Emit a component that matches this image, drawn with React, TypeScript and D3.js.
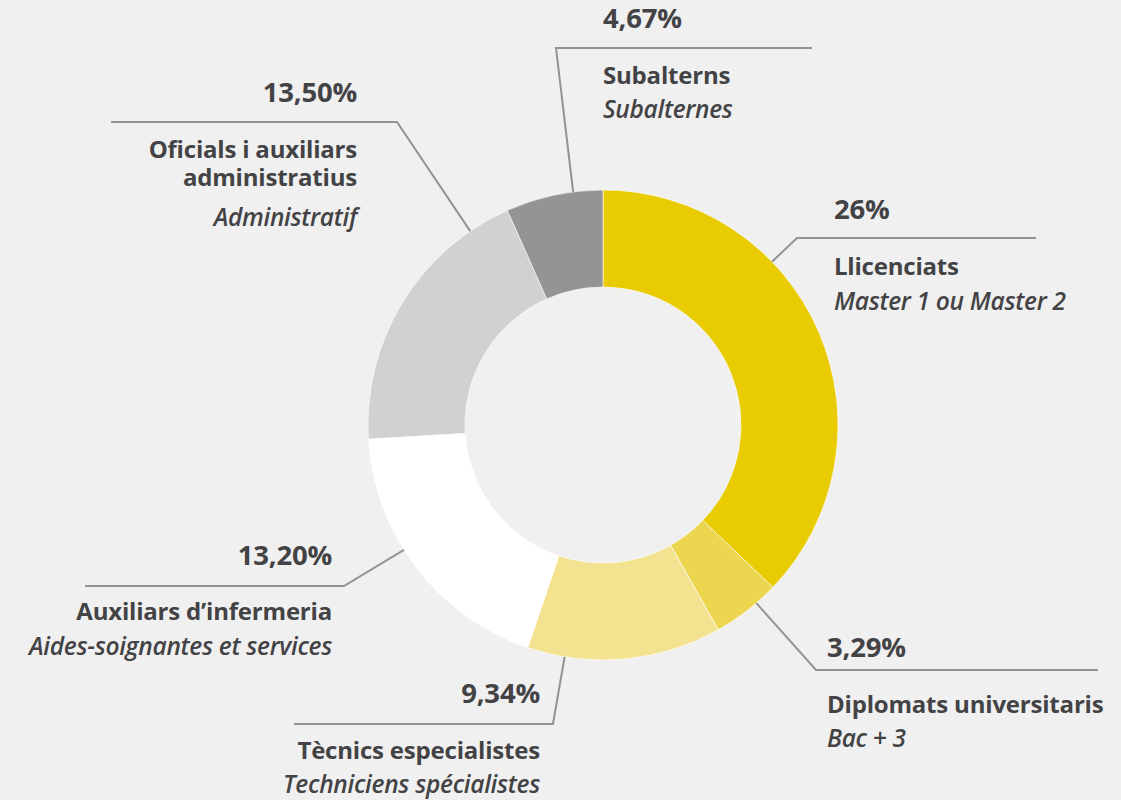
import React from "react";
import * as d3 from "d3";

const categories = [
  "Llicenciats",
  "Diplomats universitaris",
  "Tècnics especialistes",
  "Auxiliars d’infermeria",
  "Oficials i auxiliars administratius",
  "Subalterns",
];
const categoryLines = [
  ["Llicenciats"],
  ["Diplomats universitaris"],
  ["Tècnics especialistes"],
  ["Auxiliars d’infermeria"],
  ["Oficials i auxiliars", "administratius"],
  ["Subalterns"],
];
const subtitles = [
  "Master 1 ou Master 2",
  "Bac + 3",
  "Techniciens spécialistes",
  "Aides-soignantes et services",
  "Administratif",
  "Subalternes",
];
const values = [26, 3.29, 9.34, 13.2, 13.5, 4.67];
const pctLabels = ["26%", "3,29%", "9,34%", "13,20%", "13,50%", "4,67%"];

const colors = ["#e8cb00", "#edd64f", "#f3e391", "#ffffff", "#d0d1d3", "#939496"];

// label layout (positions only)
const layout = [
  { angle: 46, elbowX: 797, lineY: 238, endX: 1036, textX: 834, anchor: "start", pctY: 219, labelY: 275, subY: 310 },
  { angle: 139.3, elbowX: 816, lineY: 670, endX: 1098, textX: 827, anchor: "start", pctY: 657, labelY: 713, subY: 747 },
  { angle: 189.4, elbowX: 553, lineY: 724, endX: 294, textX: 540, anchor: "end", pctY: 703, labelY: 759, subY: 793 },
  { angle: 237.9, elbowX: 344, lineY: 586, endX: 85, textX: 332, anchor: "end", pctY: 565, labelY: 620, subY: 655 },
  { angle: 325.6, elbowX: 397, lineY: 122, endX: 111, textX: 357, anchor: "end", pctY: 102, labelY: 158, subY: 226 },
  { angle: 352.7, elbowX: 556, lineY: 48, endX: 812, textX: 603, anchor: "start", pctY: 28, labelY: 84, subY: 118 },
];

const W = 1121;
const H = 800;
const cx = 603;
const cy = 425;
const outerR = 235;
const innerR = 138;
const FONT = "'Open Sans', 'Noto Sans', sans-serif";
const TEXT = "#434345";

export default function App() {
  const pie = d3.pie<number>().sort(null).value((d) => d);
  const arcs = pie(values);
  const arc = d3.arc<d3.PieArcDatum<number>>().innerRadius(innerR).outerRadius(outerR);
  const lineGen = d3.line();

  return (
    <svg
      width={W}
      height={H}
      style={{ position: "absolute", left: 0, top: 0, display: "block", background: "#f0f0f0" }}
    >
      <rect width={W} height={H} fill="#f0f0f0" />
      <g transform={`translate(${cx},${cy})`}>
        {arcs.map((a, i) => (
          <path key={i} d={arc(a) || ""} fill={colors[i]} stroke="#ffffff" strokeWidth={0.6} />
        ))}
      </g>
      {layout.map((l, i) => {
        const rad = (l.angle * Math.PI) / 180;
        const sx = cx + outerR * Math.sin(rad);
        const sy = cy - outerR * Math.cos(rad);
        const d = lineGen([
          [sx, sy],
          [l.elbowX, l.lineY],
          [l.endX, l.lineY],
        ]);
        return (
          <path key={"l" + i} d={d || ""} fill="none" stroke="#939393" strokeWidth={2} />
        );
      })}
      {layout.map((l, i) => (
        <g key={"t" + i} fontFamily={FONT} fill={TEXT} textAnchor={l.anchor}>
          <text x={l.textX} y={l.pctY} fontSize={27.5} fontWeight={700} letterSpacing={-0.2}>
            {pctLabels[i]}
          </text>
          <text x={l.textX} y={l.labelY} fontSize={24} fontWeight={700} letterSpacing={-0.2}>
            {categoryLines[i].map((s, j) => (
              <tspan key={j} x={l.textX} dy={j === 0 ? 0 : 27.5}>
                {s}
              </tspan>
            ))}
          </text>
          <text x={l.textX} y={l.subY} fontSize={24.5} fontStyle="italic" fontWeight={600} letterSpacing={-0.3}>
            {subtitles[i]}
          </text>
        </g>
      ))}
    </svg>
  );
}
